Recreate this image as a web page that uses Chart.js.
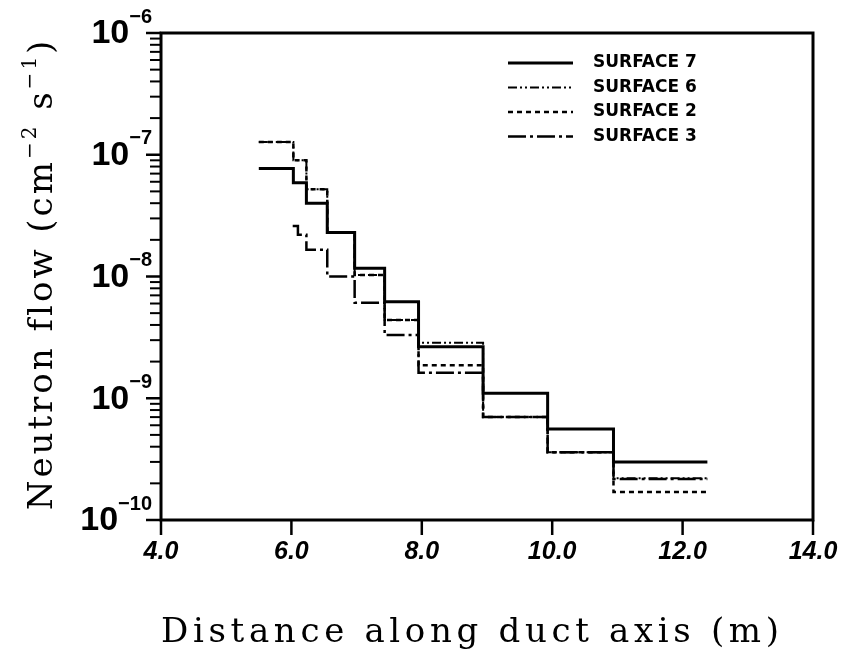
<!DOCTYPE html>
<html>
<head>
<meta charset="utf-8">
<script src="https://cdn.jsdelivr.net/npm/chart.js@4.4.0/dist/chart.umd.min.js"></script>
<style>
  html, body { margin: 0; padding: 0; background: #fff; }
  #wrap { width: 841px; height: 656px; }
</style>
</head>
<body>
<div id="wrap"><canvas id="fluxChart" width="841" height="656"></canvas></div>
<script>
// Bin boundaries along the duct (m)
const binEdges = [5.5, 6.03, 6.23, 6.55, 6.97, 7.43, 7.95, 8.94, 9.93, 10.94, 12.38];
const surface3Edges = [6.02, 6.1, 6.23, 6.55, 6.97, 7.43, 7.95, 8.94, 9.93, 10.94, 12.38];

// Neutron flow in each bin (cm-2 s-1)
const surface7 = [7.7e-8, 5.9e-8, 4.0e-8, 2.3e-8, 1.17e-8, 6.2e-9, 2.65e-9, 1.1e-9, 5.6e-10, 3.0e-10];
const surface6 = [1.27e-7, 9.0e-8, 5.2e-8, 2.3e-8, 1.03e-8, 4.4e-9, 2.85e-9, 7.0e-10, 3.6e-10, 2.2e-10];
const surface2 = [1.27e-7, 9.0e-8, 5.2e-8, 2.3e-8, 1.03e-8, 4.4e-9, 1.87e-9, 7.0e-10, 3.6e-10, 1.7e-10];
const surface3 = [2.6e-8, 2.2e-8, 1.66e-8, 1.0e-8, 6.1e-9, 3.3e-9, 1.62e-9, 7.0e-10, 3.6e-10, 2.17e-10];

const xTicks = [4, 6, 8, 10, 12, 14];
const yDecades = [-10, -9, -8, -7, -6];
const seriesNames = ['SURFACE 7', 'SURFACE 6', 'SURFACE 2', 'SURFACE 3'];

// histogram bins -> points for a stepped line (last value repeated at the end edge)
function toSteps(edges, values) {
    const pts = values.map((v, i) => ({ x: edges[i], y: v }));
    pts.push({ x: edges[edges.length - 1], y: values[values.length - 1] });
    return pts;
}

const lineStyles = [
    { width: 3, dash: [] },
    { width: 2, dash: [9, 3, 2, 3, 2, 3] },
    { width: 2.5, dash: [5, 4] },
    { width: 2.5, dash: [18, 4, 3, 4] }
];

const datasets = [
    toSteps(binEdges, surface7),
    toSteps(binEdges, surface6),
    toSteps(binEdges, surface2),
    toSteps(surface3Edges, surface3)
].map((pts, i) => ({
    label: seriesNames[i],
    data: pts,
    stepped: 'before',   // horizontal run first, then the drop
    borderColor: '#000',
    borderWidth: lineStyles[i].width,
    borderDash: lineStyles[i].dash,
    pointRadius: 0,
    fill: false
}));

function seg(ctx, x1, y1, x2, y2) {
    ctx.beginPath();
    ctx.moveTo(x1, y1);
    ctx.lineTo(x2, y2);
    ctx.stroke();
}

// text with letter spacing stretched to a given width
function spacedText(ctx, str, x, y, width) {
    ctx.letterSpacing = '0px';
    const w = ctx.measureText(str).width;
    ctx.letterSpacing = ((width - w) / (str.length - 1)) + 'px';
    ctx.fillText(str, x, y);
    ctx.letterSpacing = '0px';
}

// frame, ticks, labels and legend
const decorPlugin = {
    id: 'decor',
    afterDraw(chart) {
        const { ctx, chartArea: a } = chart;
        const xs = chart.scales.x, ys = chart.scales.y;
        ctx.save();
        ctx.strokeStyle = '#000';
        ctx.fillStyle = '#000';
        ctx.lineCap = 'butt';

        ctx.lineWidth = 3;
        ctx.strokeRect(a.left, a.top, a.right - a.left, a.bottom - a.top);

        // x ticks and labels
        ctx.lineWidth = 2.5;
        ctx.font = 'bold italic 25px "Liberation Sans"';
        ctx.textAlign = 'center';
        ctx.textBaseline = 'middle';
        xTicks.forEach(v => {
            const px = xs.getPixelForValue(v);
            seg(ctx, px, a.bottom, px, a.bottom + 15);
            ctx.fillText(v.toFixed(1), px, a.bottom + 32);
        });

        // y ticks (decades + minor) and labels
        yDecades.forEach(d => {
            const py = ys.getPixelForValue(Math.pow(10, d));
            ctx.lineWidth = 2.5;
            seg(ctx, a.left - 15, py, a.left, py);
            if (d < -6) {
                ctx.lineWidth = 2;
                for (let m = 2; m <= 9; m++) {
                    const pm = ys.getPixelForValue(m * Math.pow(10, d));
                    seg(ctx, a.left - 11, pm, a.left, pm);
                }
            }
            const sup = '\u2212' + Math.abs(d);
            ctx.textAlign = 'left';
            ctx.font = 'bold 20px "Liberation Sans"';
            const supW = ctx.measureText(sup).width;
            const supX = a.left - 9 - supW;
            ctx.fillText(sup, supX, py - 16);
            ctx.font = 'bold 34px "Liberation Sans"';
            ctx.textAlign = 'right';
            ctx.fillText('10', supX, py + 1);
        });

        // x axis title
        ctx.font = '34px "DejaVu Serif"';
        ctx.textAlign = 'left';
        ctx.textBaseline = 'alphabetic';
        spacedText(ctx, 'Distance along duct axis (m)', 161, 642, 618);

        // y axis title, rotated, with superscripts
        ctx.save();
        ctx.translate(52, 274);
        ctx.rotate(-Math.PI / 2);
        const parts = [
            ['Neutron flow (cm', false], ['\u22122', true], [' s', false], ['\u22121', true], [')', false]
        ];
        const mainFont = '34px "DejaVu Serif"';
        const supFont = '20px "DejaVu Serif"';
        ctx.letterSpacing = '3px';
        let total = 0;
        parts.forEach(([t, s]) => { ctx.font = s ? supFont : mainFont; total += ctx.measureText(t).width; });
        let cx = -total / 2;
        parts.forEach(([t, s]) => {
            ctx.font = s ? supFont : mainFont;
            ctx.fillText(t, cx, s ? -16 : 0);
            cx += ctx.measureText(t).width;
        });
        ctx.letterSpacing = '0px';
        ctx.restore();

        // legend
        ctx.font = 'bold 17px "DejaVu Sans"';
        ctx.textAlign = 'left';
        ctx.textBaseline = 'middle';
        seriesNames.forEach((name, i) => {
            const ly = 63 + i * 24.5;
            ctx.lineWidth = lineStyles[i].width;
            ctx.setLineDash(lineStyles[i].dash);
            seg(ctx, 508, ly, 573, ly);
            ctx.setLineDash([]);
            ctx.fillText(name, 593, ly);
        });
        ctx.restore();
    }
};

const chart = new Chart(document.getElementById('fluxChart'), {
    type: 'line',
    data: { datasets },
    options: {
        responsive: false,
        animation: false,
        layout: { padding: { left: 161, right: 28, top: 33, bottom: 136 } },
        scales: {
            x: { type: 'linear', min: 4, max: 14, display: false },
            y: { type: 'logarithmic', min: 1e-10, max: 1e-6, display: false }
        },
        plugins: { legend: { display: false }, tooltip: { enabled: false } }
    },
    plugins: [decorPlugin]
});
</script>
</body>
</html>
